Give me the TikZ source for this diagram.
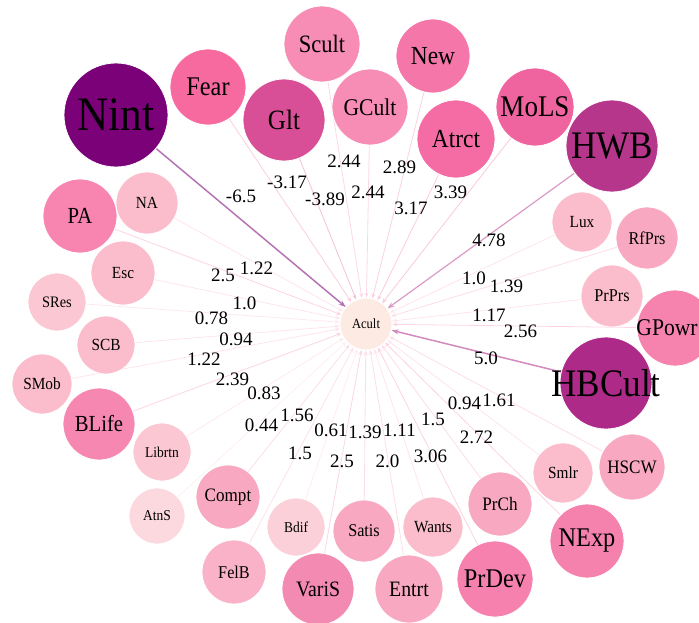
\documentclass[tikz,border=0pt]{standalone}
\usepackage{fontspec}
\setmainfont{Liberation Serif}
\newfontfamily\circfont{Liberation Serif}[FakeStretch=0.9]
\usetikzlibrary{arrows.meta,calc}

\newcommand{\bubfont}[1]{\circfont\fontsize{#1}{#1}\selectfont}
\newcommand{\wtfont}{\fontsize{19}{19}\selectfont}

\pgfdeclarelayer{bg}
\pgfsetlayers{bg,main}

\definecolor{cacult}{HTML}{FDEBE3}
\definecolor{cnint}{HTML}{7A0177}
\definecolor{chwb}{HTML}{B6368C}
\definecolor{chbcult}{HTML}{AE2A88}
\definecolor{cglt}{HTML}{D94F97}
\definecolor{cfear}{HTML}{F66A9F}
\definecolor{catrct}{HTML}{F56BA3}
\definecolor{cmols}{HTML}{EF639F}
\definecolor{cnew}{HTML}{F576A8}
\definecolor{cscult}{HTML}{F78CB4}
\definecolor{cgpowr}{HTML}{F683AE}
\definecolor{cnexp}{HTML}{F482AD}
\definecolor{cprdev}{HTML}{F681AE}
\definecolor{cblife}{HTML}{F587B0}
\definecolor{cpa}{HTML}{F785B0}
\definecolor{cvaris}{HTML}{F38AB1}
\definecolor{cmid}{HTML}{F8A9C1}
\definecolor{cfelb}{HTML}{F9B2C7}
\definecolor{clite}{HTML}{FBBDCC}
\definecolor{csres}{HTML}{FBC7D2}
\definecolor{cbdif}{HTML}{FCD0D9}
\definecolor{catns}{HTML}{FCD8DF}

\begin{document}
\begin{tikzpicture}[
    x=1pt, y=1pt,
    bub/.style={circle, draw=white, line width=0.8pt, inner sep=0pt, font=\bubfont{17}},
    lnk/.style={-{Stealth[length=5pt, width=4pt]}, line width=0.8pt},
    hvy/.style={-{Stealth[length=7pt, width=5pt]}, line width=1.5pt},
    wt/.style={font=\wtfont, yshift=-5pt},
    wtt/.style={font=\wtfont, yshift=23pt}
  ]
    \useasboundingbox (0,0) rectangle (699,-623);

    % centre
    \node[bub, fill=cacult, minimum size=52pt, font=\bubfont{14}] (acult) at (366,-324) {Acult};

    % outer ring, clockwise from Nint
    \node[bub, fill=cnint, minimum size=104pt, font=\bubfont{48}] (nint) at (116,-115) {Nint};
    \node[bub, fill=cfear, minimum size=76pt, font=\bubfont{27}] (fear) at (208,-87) {Fear};
    \node[bub, fill=cglt, minimum size=82pt, font=\bubfont{28}] (glt) at (284,-120) {Glt};
    \node[bub, fill=cscult, minimum size=76pt, font=\bubfont{25}] (scult) at (322,-44) {Scult};
    \node[bub, fill=cscult, minimum size=76pt, font=\bubfont{24}] (gcult) at (370,-107) {GCult};
    \node[bub, fill=cnew, minimum size=74pt, font=\bubfont{26}] (new) at (433,-56) {New};
    \node[bub, fill=catrct, minimum size=78pt, font=\bubfont{26}] (atrct) at (456,-139) {Atrct};
    \node[bub, fill=cmols, minimum size=78pt, font=\bubfont{30}] (mols) at (535,-107) {MoLS};
    \node[bub, fill=chwb, minimum size=92pt, font=\bubfont{39}] (hwb) at (612,-146) {HWB};
    \node[bub, fill=clite, minimum size=60pt] (lux) at (582,-222) {Lux};
    \node[bub, fill=cmid, minimum size=62pt, font=\bubfont{18}] (rfprs) at (647,-238) {RfPrs};
    \node[bub, fill=clite, minimum size=62pt, font=\bubfont{18}] (prprs) at (612,-296) {PrPrs};
    \node[bub, fill=cgpowr, minimum size=76pt, font=\bubfont{24}] (gpowr) at (675,-328) {\makebox[0pt]{GPowr\hspace{16pt}}};
    \node[bub, fill=chbcult, minimum size=92pt, font=\bubfont{39}] (hbcult) at (606,-383) {\makebox[0pt]{HBCult}};
    \node[bub, fill=cmid, minimum size=66pt, font=\bubfont{19}] (hscw) at (632,-467) {HSCW};
    \node[bub, fill=clite, minimum size=60pt] (smlr) at (563,-473) {Smlr};
    \node[bub, fill=cnexp, minimum size=74pt, font=\bubfont{27}] (nexp) at (587,-541) {NExp};
    \node[bub, fill=cmid, minimum size=64pt, font=\bubfont{19}] (prch) at (500,-504) {PrCh};
    \node[bub, fill=cprdev, minimum size=76pt, font=\bubfont{27}] (prdev) at (495,-579) {PrDev};
    \node[bub, fill=clite, minimum size=60pt] (wants) at (433,-527) {Wants};
    \node[bub, fill=cmid, minimum size=68pt, font=\bubfont{22}] (entrt) at (409,-589) {Entrt};
    \node[bub, fill=cmid, minimum size=62pt, font=\bubfont{18}] (satis) at (364,-531) {Satis};
    \node[bub, fill=cbdif, minimum size=58pt, font=\bubfont{15}] (bdif) at (296,-527) {Bdif};
    \node[bub, fill=cvaris, minimum size=72pt, font=\bubfont{22}] (varis) at (318,-589) {VariS};
    \node[bub, fill=cfelb, minimum size=64pt, font=\bubfont{18}] (felb) at (234,-572) {FelB};
    \node[bub, fill=cmid, minimum size=64pt, font=\bubfont{19}] (compt) at (228,-497) {Compt};
    \node[bub, fill=catns, minimum size=56pt, font=\bubfont{15}] (atns) at (157,-516) {AtnS};
    \node[bub, fill=csres, minimum size=58pt, font=\bubfont{15}] (librtn) at (162,-452) {Librtn};
    \node[bub, fill=cblife, minimum size=72pt, font=\bubfont{23}] (blife) at (99,-424) {BLife};
    \node[bub, fill=clite, minimum size=60pt] (smob) at (42,-384) {SMob};
    \node[bub, fill=clite, minimum size=58pt] (scb) at (106,-345) {SCB};
    \node[bub, fill=csres, minimum size=58pt, font=\bubfont{16}] (sres) at (57,-302) {SRes};
    \node[bub, fill=clite, minimum size=64pt] (esc) at (123,-273) {Esc};
    \node[bub, fill=cpa, minimum size=74pt, font=\bubfont{23}] (pa) at (80,-216) {PA};
    \node[bub, fill=clite, minimum size=62pt] (na) at (147,-203) {NA};

    % links into Acult, behind the bubbles
    \begin{pgfonlayer}{bg}
    \draw[hvy, draw=cnint!55!white] (nint) -- (acult);
    \draw[lnk, draw=cfear!35!white] (fear) -- (acult);
    \draw[lnk, draw=cglt!35!white] (glt) -- (acult);
    \draw[lnk, draw=cscult!35!white] (scult) -- (acult);
    \draw[lnk, draw=cscult!35!white] (gcult) -- (acult);
    \draw[lnk, draw=cnew!35!white] (new) -- (acult);
    \draw[lnk, draw=catrct!35!white] (atrct) -- (acult);
    \draw[lnk, draw=cmols!35!white] (mols) -- (acult);
    \draw[hvy, line width=1.2pt, draw=chwb!50!white] (hwb) -- (acult);
    \draw[lnk, draw=clite!40!white] (lux) -- (acult);
    \draw[lnk, draw=cmid!40!white] (rfprs) -- (acult);
    \draw[lnk, draw=clite!40!white] (prprs) -- (acult);
    \draw[lnk, draw=cgpowr!35!white] (gpowr) -- (acult);
    \draw[hvy, draw=chbcult!55!white] (hbcult) -- (acult);
    \draw[lnk, draw=cmid!40!white] (hscw) -- (acult);
    \draw[lnk, draw=clite!40!white] (smlr) -- (acult);
    \draw[lnk, draw=cnexp!35!white] (nexp) -- (acult);
    \draw[lnk, draw=cmid!40!white] (prch) -- (acult);
    \draw[lnk, draw=cprdev!35!white] (prdev) -- (acult);
    \draw[lnk, draw=clite!40!white] (wants) -- (acult);
    \draw[lnk, draw=cmid!40!white] (entrt) -- (acult);
    \draw[lnk, draw=cmid!40!white] (satis) -- (acult);
    \draw[lnk, draw=cbdif!40!white] (bdif) -- (acult);
    \draw[lnk, draw=cvaris!35!white] (varis) -- (acult);
    \draw[lnk, draw=cfelb!40!white] (felb) -- (acult);
    \draw[lnk, draw=cmid!40!white] (compt) -- (acult);
    \draw[lnk, draw=catns!40!white] (atns) -- (acult);
    \draw[lnk, draw=csres!40!white] (librtn) -- (acult);
    \draw[lnk, draw=cblife!35!white] (blife) -- (acult);
    \draw[lnk, draw=clite!40!white] (smob) -- (acult);
    \draw[lnk, draw=clite!40!white] (scb) -- (acult);
    \draw[lnk, draw=csres!40!white] (sres) -- (acult);
    \draw[lnk, draw=clite!40!white] (esc) -- (acult);
    \draw[lnk, draw=cpa!35!white] (pa) -- (acult);
    \draw[lnk, draw=clite!40!white] (na) -- (acult);
    \end{pgfonlayer}

    % weights
    \node[wtt] (wnint) at ($(nint)!0.5!(acult)$) {-6.5};
    \node[wtt] (wfear) at ($(fear)!0.5!(acult)$) {-3.17};
    \node[wtt] (wglt) at ($(glt)!0.5!(acult)$) {-3.89};
    \node[wtt] (wscult) at ($(scult)!0.5!(acult)$) {2.44};
    \node[wtt] (wgcult) at ($(gcult)!0.5!(acult)$) {2.44};
    \node[wtt] (wnew) at ($(new)!0.5!(acult)$) {2.89};
    \node[wtt] (watrct) at ($(atrct)!0.5!(acult)$) {3.17};
    \node[wtt] (wmols) at ($(mols)!0.5!(acult)$) {3.39};
    \node[wt] (whwb) at ($(hwb)!0.5!(acult)$) {4.78};
    \node[wt] (wlux) at ($(lux)!0.5!(acult)$) {1.0};
    \node[wt] (wrfprs) at ($(rfprs)!0.5!(acult)$) {1.39};
    \node[wt] (wprprs) at ($(prprs)!0.5!(acult)$) {1.17};
    \node[wt] (wgpowr) at ($(gpowr)!0.5!(acult)$) {2.56};
    \node[wt] (whbcult) at ($(hbcult)!0.5!(acult)$) {5.0};
    \node[wt] (whscw) at ($(hscw)!0.5!(acult)$) {1.61};
    \node[wt] (wsmlr) at ($(smlr)!0.5!(acult)$) {0.94};
    \node[wt] (wnexp) at ($(nexp)!0.5!(acult)$) {2.72};
    \node[wt] (wprch) at ($(prch)!0.5!(acult)$) {1.5};
    \node[wt] (wprdev) at ($(prdev)!0.5!(acult)$) {3.06};
    \node[wt] (wwants) at ($(wants)!0.5!(acult)$) {1.11};
    \node[wt] (wentrt) at ($(entrt)!0.5!(acult)$) {2.0};
    \node[wt] (wsatis) at ($(satis)!0.5!(acult)$) {1.39};
    \node[wt] (wbdif) at ($(bdif)!0.5!(acult)$) {0.61};
    \node[wt] (wvaris) at ($(varis)!0.5!(acult)$) {2.5};
    \node[wt] (wfelb) at ($(felb)!0.5!(acult)$) {1.5};
    \node[wt] (wcompt) at ($(compt)!0.5!(acult)$) {1.56};
    \node[wt] (watns) at ($(atns)!0.5!(acult)$) {0.44};
    \node[wt] (wlibrtn) at ($(librtn)!0.5!(acult)$) {0.83};
    \node[wt] (wblife) at ($(blife)!0.5!(acult)$) {2.39};
    \node[wt] (wsmob) at ($(smob)!0.5!(acult)$) {1.22};
    \node[wt] (wscb) at ($(scb)!0.5!(acult)$) {0.94};
    \node[wt] (wsres) at ($(sres)!0.5!(acult)$) {0.78};
    \node[wt] (wesc) at ($(esc)!0.5!(acult)$) {1.0};
    \node[wt] (wpa) at ($(pa)!0.5!(acult)$) {2.5};
    \node[wt] (wna) at ($(na)!0.5!(acult)$) {1.22};
  \end{tikzpicture}
\end{document}
